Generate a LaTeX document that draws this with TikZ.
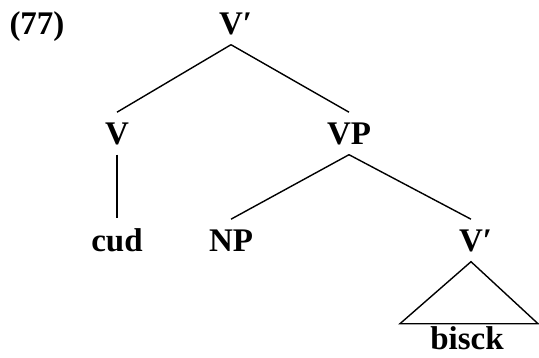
\documentclass[tikz,border=0pt]{standalone}
\usepackage{fontspec}
\setmainfont{Liberation Serif}
\usepackage{tikz}
\usetikzlibrary{positioning}

\tikzset{
    cat/.style={font=\fontsize{33}{40}\selectfont\bfseries, anchor=base, inner xsep=0pt, inner ysep=10pt},
    branch/.style={line width=1.4pt}
}

\begin{document}
\begin{tikzpicture}[x=1pt,y=-1pt]
    \useasboundingbox (0,0) rectangle (539,357);

    % Example number
    \node[cat, inner sep=0pt] (exnum) at (37,34) {(77)};

    % Categories and words
    \node[cat] (vbartop) at (231,34) {V\rlap{′}};
    \node[cat] (v) at (117,144) {V};
    \node[cat] (vp) at (349,144) {VP};
    \node[cat] (cud) at (117,251) {cud};
    \node[cat] (np) at (231,251) {NP};
    \node[cat] (vbarlow) at (471,251) {V\rlap{′}};
    \node[cat, inner ysep=1pt] (bisck) at (467,349) {bisck};

    % Branches
    \draw[branch] (vbartop.south) -- (v.north);
    \draw[branch] (vbartop.south) -- (vp.north);
    \draw[branch] (v.south) -- (cud.north);
    \draw[branch] (vp.south) -- (np.north);
    \draw[branch] (vp.south) -- (vbarlow.north);

    % Triangle over the unanalysed V'
    \draw[branch, line join=miter] (vbarlow.south) -- ++(-71,62) -- ++(138,0) -- cycle;
\end{tikzpicture}
\end{document}
